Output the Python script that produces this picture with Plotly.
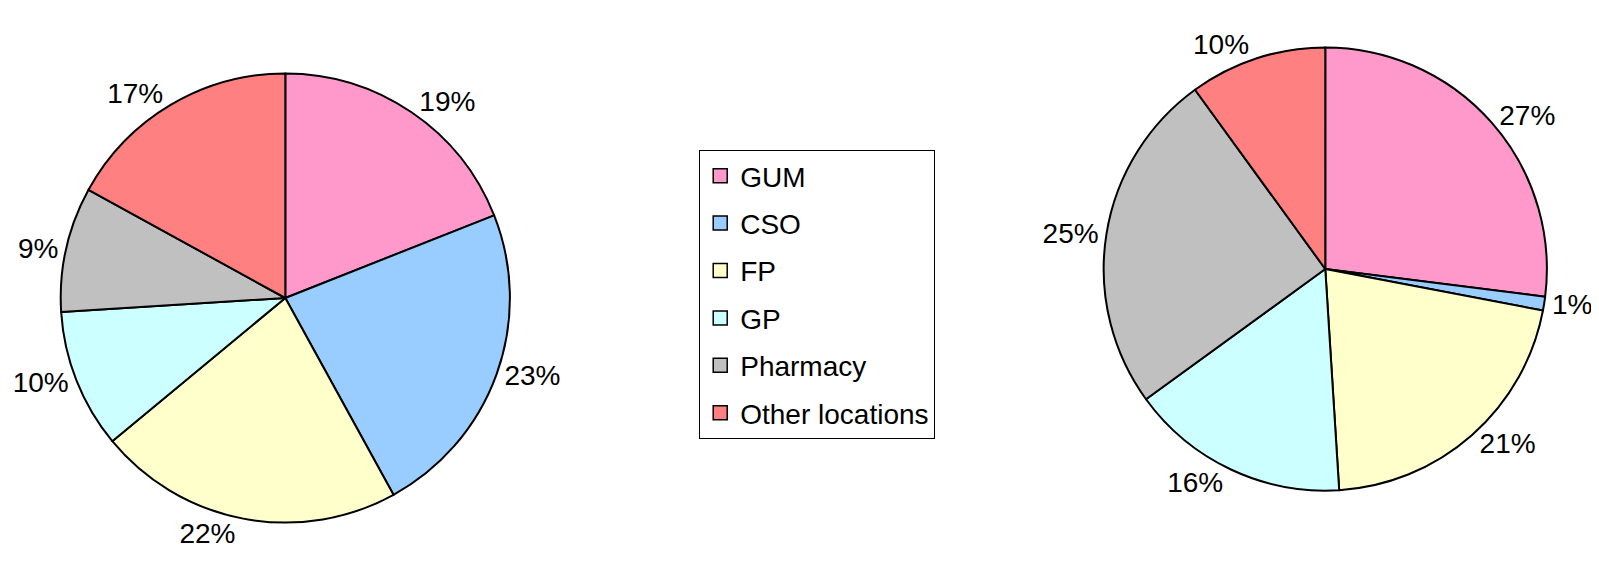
import plotly.graph_objects as go

labels = ["GUM", "CSO", "FP", "GP", "Pharmacy", "Other locations"]
colors = ["#FF99CC", "#99CCFF", "#FFFFCC", "#CCFFFF", "#C0C0C0", "#FF8080"]
left_values = [19, 23, 22, 10, 9, 17]
right_values = [27, 1, 21, 16, 25, 10]

W, H = 1599, 574
FONT = "Liberation Sans, Arial, sans-serif"

def dom(cx, cy, r):
    return dict(x=[(cx - r) / W, (cx + r) / W],
                y=[(H - cy - r) / H, (H - cy + r) / H])

fig = go.Figure()
for vals, d in [(left_values, dom(269, 290, 226)), (right_values, dom(1315.5, 261, 223))]:
    fig.add_trace(go.Pie(
        labels=labels, values=vals, sort=False, direction="clockwise", rotation=0,
        marker=dict(colors=colors, line=dict(color="black", width=2)),
        texttemplate="%{value}%", textposition="outside",
        textfont=dict(family=FONT, size=28, color="black"),
        showlegend=False, domain=d, hoverinfo="label+value",
    ))

for lab, col in zip(labels, colors):
    fig.add_trace(go.Scatter(
        x=[None], y=[None], mode="markers", name=lab, legendgroup=lab,
        marker=dict(symbol="square", size=14, color=col, line=dict(color="black", width=1.5)),
    ))

fig.update_xaxes(visible=False)
fig.update_yaxes(visible=False)
fig.update_layout(
    width=W, height=H, margin=dict(l=0, r=0, t=0, b=0),
    paper_bgcolor="white", plot_bgcolor="white",
    font=dict(family=FONT, size=28, color="black"),
    legend=dict(x=685.5 / W, y=1 - 142 / H, xanchor="left", yanchor="top",
                bordercolor="black", borderwidth=1, bgcolor="white",
                traceorder="grouped", tracegroupgap=8,
                font=dict(family=FONT, size=28, color="black")),
)
fig.write_html("out.html")
